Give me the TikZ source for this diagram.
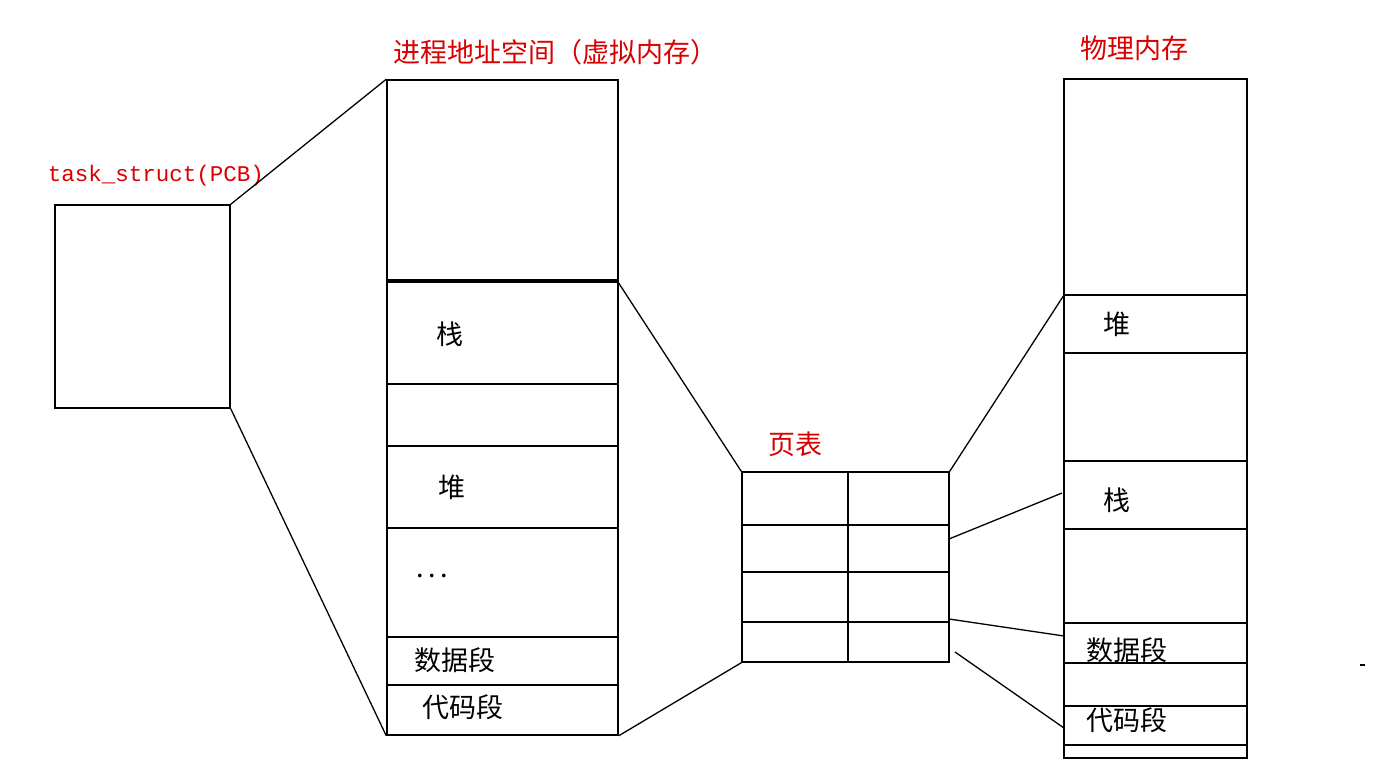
\documentclass[tikz,border=0pt]{standalone}
\usepackage{fontspec}
\setmainfont{Liberation Serif}
\newfontfamily\cjk{Noto Sans CJK SC}
\newfontfamily\monof{Liberation Mono}
\begin{document}
\begin{tikzpicture}[x=1pt,y=-1pt,
  box/.style={draw,line width=1.5pt},
  ln/.style={line width=1.3pt},
  red/.style={text=red!85!black,font=\cjk\fontsize{27}{30}\selectfont},
  lab/.style={font=\cjk\fontsize{27}{30}\selectfont}]
\useasboundingbox (0,0) rectangle (1384,764);
% PCB
\node[box,minimum width=175pt,minimum height=203pt,inner sep=0] (pcb) at (142.5,306.5) {};
\node[text=red!85!black,font=\monof\fontsize{22.5}{26}\selectfont] (pcbl) at (156,176) {task\_struct(PCB)};
% virtual memory
\node[box,minimum width=231pt,minimum height=655pt,inner sep=0] (vm) at (502.5,407.5) {};
\foreach \y in {280,282,384,446,528,637,685} \draw[ln] (387,\y) -- (618,\y);
\node[red] (vmt) at (555,52) {进程地址空间（虚拟内存）};
\node[lab] (v1) at (450,334) {栈};
\node[lab] (v2) at (452,487) {堆};
\node[lab] (v3) at (432,576) {.\,.\,.};
\node[lab] (v4) at (455,660) {数据段};
\node[lab] (v5) at (463,707) {代码段};
\draw[ln] (pcb.north east) -- (vm.north west);
\draw[ln] (pcb.south east) -- (vm.south west);
% page table
\node[box,minimum width=207pt,minimum height=190pt,inner sep=0] (pt) at (845.5,567) {};
\draw[ln] (848,472) -- (848,662);
\foreach \y in {525,572,622} \draw[ln] (742,\y) -- (949,\y);
\node[red] (ptl) at (795,444) {页表};
\coordinate (vs) at (618,282);
\draw[ln] (vs) -- (pt.north west);
\draw[ln] (vm.south east) -- (pt.south west);
% physical memory
\node[box,minimum width=183pt,minimum height=679pt,inner sep=0] (pm) at (1155.5,418.5) {};
\foreach \y in {295,353,461,529,623,663,706,745} \draw[ln] (1064,\y) -- (1247,\y);
\node[red] (pmt) at (1134,48) {物理内存};
\node[lab] (p1) at (1117,324) {堆};
\node[lab] (p2) at (1117,500) {栈};
\node[lab] (p3) at (1127,650) {数据段};
\node[lab] (p4) at (1127,720) {代码段};
\coordinate (a1) at (1064,295); \coordinate (a2) at (1062,493);
\coordinate (a3) at (1064,636); \coordinate (a4) at (1064,728);
\coordinate (b2) at (949,539); \coordinate (b3) at (949,619); \coordinate (b4) at (955,652);
\draw[ln] (pt.north east) -- (a1);
\draw[ln] (b2) -- (a2);
\draw[ln] (b3) -- (a3);
\draw[ln] (b4) -- (a4);
\draw[line width=1.3pt] (1360,665) -- (1365,665);
\end{tikzpicture}
\end{document}
